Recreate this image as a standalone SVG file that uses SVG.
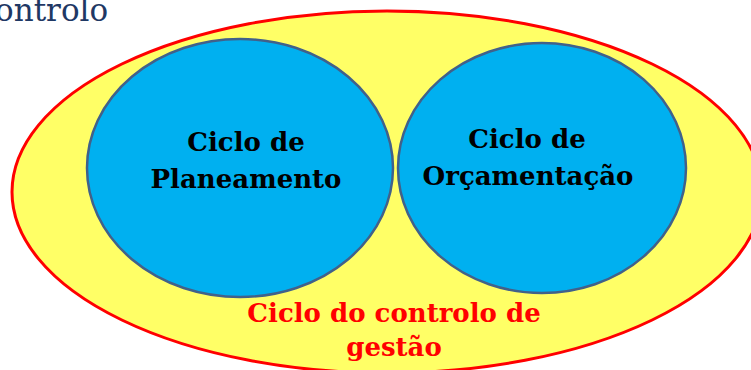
<svg xmlns="http://www.w3.org/2000/svg" width="751" height="370" viewBox="0 0 751 370">
<style>
.lbl{font-family:"DejaVu Serif","Liberation Serif",serif;font-weight:bold;font-size:26px;text-anchor:middle;fill:#000}
.red{fill:#FF0000}
.inner{fill:#00B0F0;stroke:#41618A;stroke-width:2.5}
</style>
<rect width="751" height="370" fill="#fff"/>
<text x="-5" y="21" style="font-family:'DejaVu Serif','Liberation Serif',serif;font-size:31px;fill:#1F3864">ontrolo</text>
<g id="gestao">
<ellipse cx="387" cy="192" rx="375" ry="181" fill="#FFFF66" stroke="#FF0000" stroke-width="3"/>
<text class="lbl red" x="394" y="322">Ciclo do controlo de</text>
<text class="lbl red" x="394" y="356">gestão</text>
</g>
<g id="planeamento">
<ellipse class="inner" cx="240" cy="168" rx="153" ry="129"/>
<text class="lbl" x="246" y="151">Ciclo de</text>
<text class="lbl" x="246" y="188">Planeamento</text>
</g>
<g id="orcamentacao">
<ellipse class="inner" cx="542" cy="168" rx="144" ry="125"/>
<text class="lbl" x="527" y="148">Ciclo de</text>
<text class="lbl" x="528" y="185">Orçamentação</text>
</g>
<g id="connectors"/>
</svg>
